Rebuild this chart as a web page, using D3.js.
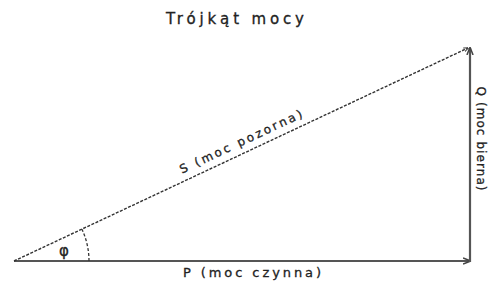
<!DOCTYPE html>
<html>
<head>
<meta charset="utf-8">
<script src="https://cdn.jsdelivr.net/npm/d3@7"></script>
<style>
  body { margin: 0; background: #fff; }
  svg text { font-family: "DejaVu Sans", Arial, sans-serif; fill: #222; stroke: #222; stroke-width: 0.3px; }
</style>
</head>
<body>
<svg id="chart" width="491" height="286"></svg>
<script>
// power values (relative)
const sides = ['P', 'Q', 'S'];
const power = [100, 46.7];
const labels = ['P (moc czynna)', 'Q (moc bierna)', 'S (moc pozorna)'];
const title = 'Trójkąt mocy';

const P = power[0];
const Q = power[1];
const phi = Math.atan2(Q, P);

const svg = d3.select('#chart');

const x = d3.scaleLinear().domain([0, P]).range([14, 470]);
const y = d3.scaleLinear().domain([0, Q]).range([261, 48]);

const defs = svg.append('defs');
defs.append('marker')
  .attr('id', 'tip')
  .attr('viewBox', '0 0 10 10')
  .attr('refX', 9)
  .attr('refY', 5)
  .attr('markerWidth', 3.5)
  .attr('markerHeight', 3.5)
  .attr('orient', 'auto')
  .append('path')
  .attr('d', 'M0,1 L10,5 L0,9')
  .style('fill', 'none')
  .style('stroke', '#444')
  .style('stroke-width', 2);

svg.append('text')
  .attr('x', 235)
  .attr('y', 24)
  .attr('text-anchor', 'middle')
  .attr('textLength', 138)
  .attr('lengthAdjust', 'spacing')
  .style('font-size', '15px')
  .text(title);

// P
svg.append('line')
  .attr('x1', x(0)).attr('y1', y(0))
  .attr('x2', x(P)).attr('y2', y(0))
  .style('stroke', '#555')
  .style('stroke-width', 2.2)
  .attr('marker-end', 'url(#tip)');

// Q
svg.append('line')
  .attr('x1', x(P)).attr('y1', y(0) + 1)
  .attr('x2', x(P)).attr('y2', y(Q))
  .style('stroke', '#555')
  .style('stroke-width', 2.2)
  .attr('marker-end', 'url(#tip)');

// S
svg.append('line')
  .attr('x1', x(0)).attr('y1', y(0))
  .attr('x2', x(P) - 2).attr('y2', y(Q))
  .style('stroke', '#333')
  .style('stroke-width', 1.4)
  .style('stroke-dasharray', '3,1.5')
  .attr('marker-end', 'url(#tip)');

// angle arc
const r = 75;
const arc = d3.path();
arc.arc(x(0), y(0), r, 0, -phi, true);
svg.append('path')
  .attr('d', arc.toString())
  .style('fill', 'none')
  .style('stroke', '#333')
  .style('stroke-width', 1.3)
  .style('stroke-dasharray', '3,2');

svg.append('text')
  .attr('x', 64)
  .attr('y', 256)
  .attr('text-anchor', 'middle')
  .style('font-size', '15px')
  .text('φ');

// labels
svg.append('text')
  .attr('x', 252)
  .attr('y', 277)
  .attr('text-anchor', 'middle')
  .attr('textLength', 138)
  .attr('lengthAdjust', 'spacing')
  .style('font-size', '13px')
  .text(labels[0]);

svg.append('text')
  .attr('transform', `translate(477, ${(y(0) + y(Q)) / 2 - 16}) rotate(90)`)
  .attr('text-anchor', 'middle')
  .attr('textLength', 104)
  .attr('lengthAdjust', 'spacing')
  .style('font-size', '12px')
  .text(labels[1]);

const mx = 246;
const my = y(0) - (mx - x(0)) * Math.tan(phi);
const deg = -phi * 180 / Math.PI;
svg.append('text')
  .attr('transform', `translate(${mx + 8 * Math.sin(phi) * -1}, ${my - 8 * Math.cos(phi)}) rotate(${deg})`)
  .attr('text-anchor', 'middle')
  .attr('textLength', 134)
  .attr('lengthAdjust', 'spacing')
  .style('font-size', '12px')
  .text(labels[2]);
</script>
</body>
</html>
